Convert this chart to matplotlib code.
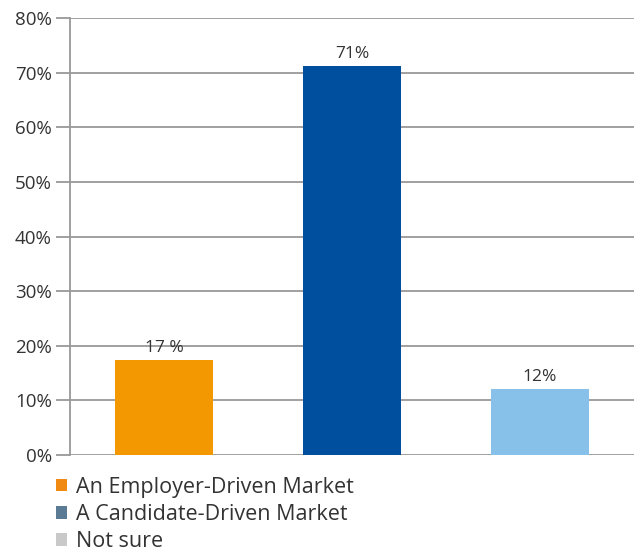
import matplotlib
matplotlib.use('Agg')
import matplotlib.pyplot as plt
from matplotlib.patches import Patch

plt.rcParams['font.family'] = ['Open Sans', 'DejaVu Sans']

categories = ['An Employer-Driven Market', 'A Candidate-Driven Market', 'Not sure']
values = [17.3, 71.2, 12.1]
bar_labels = ['17 %', '71%', '12%']
bar_colors = ['#F39800', '#004F9F', '#87C1E9']
legend_colors = ['#F08A12', '#5B7A94', '#C9C9C9']
yticks = [0, 10, 20, 30, 40, 50, 60, 70, 80]

fig = plt.figure(figsize=(6.34, 5.54), dpi=100)
ax = fig.add_axes([70 / 634, 99 / 554, 564 / 634, 437 / 554])

x = range(len(categories))
bars = ax.bar(x, values, width=0.516, color=bar_colors, zorder=3)
for b, lab in zip(bars, bar_labels):
    ax.text(b.get_x() + b.get_width() / 2, b.get_height() + 0.8, lab,
            ha='center', va='bottom', fontsize=12.5, color='#333333')

ax.set_xlim(-0.5, 2.5)
ax.set_ylim(0, 80)
ax.set_yticks(yticks)
ax.set_yticklabels(['%d%%' % t for t in yticks], fontsize=13.5, color='#333333')
ax.set_xticks([])
ax.grid(axis='y', color='#999999', linewidth=1.3, zorder=0)
ax.tick_params(axis='y', length=10, width=1.3, color='#999999', pad=3)
for s in ['top', 'right', 'bottom']:
    ax.spines[s].set_visible(False)
ax.spines['left'].set_color('#999999')
ax.spines['left'].set_linewidth(1.3)

handles = [Patch(facecolor=c, edgecolor='none') for c in legend_colors]
fig.legend(handles, categories, loc='upper left', bbox_to_anchor=(56 / 634, 1 - 477 / 554),
           frameon=False, fontsize=15.5, handlelength=0.5, handleheight=0.5,
           handletextpad=0.45, labelspacing=0.28, labelcolor='#333333', borderaxespad=0,
           borderpad=0)

fig.savefig('out.png', dpi=100)
